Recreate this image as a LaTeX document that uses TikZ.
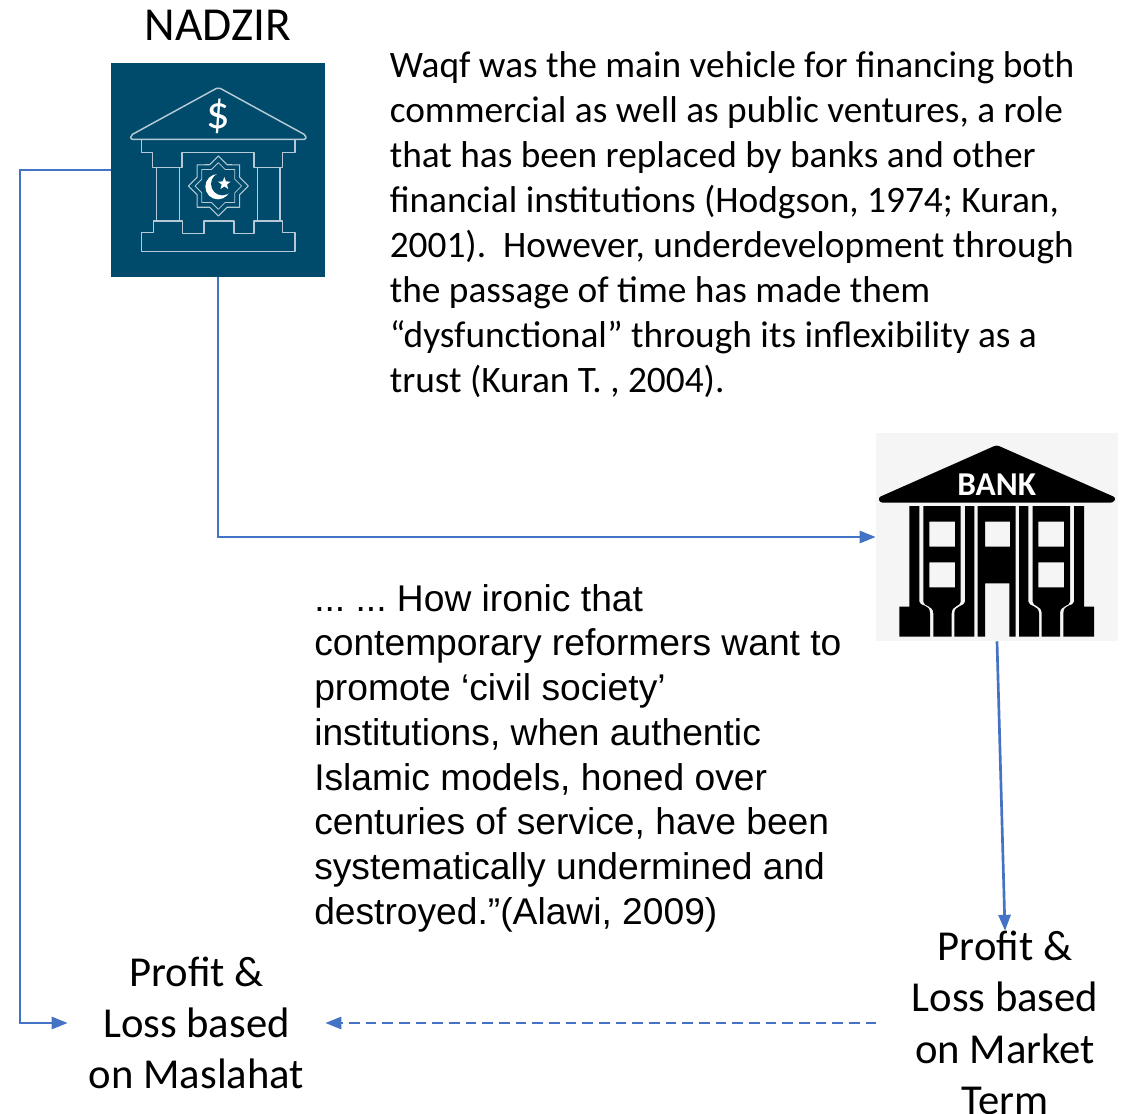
\documentclass[tikz,border=0pt]{standalone}
\usepackage{fontspec}
\setmainfont{Carlito}
\newfontfamily\arialfont{Liberation Sans}
\usetikzlibrary{arrows.meta,shapes.geometric}
\definecolor{linkblue}{HTML}{4472C4}
\definecolor{nadzirblue}{HTML}{004A6B}
\definecolor{iconline}{HTML}{B5CAD6}
\definecolor{bankgrey}{HTML}{F5F5F5}
\frenchspacing
\tikzset{
  link/.style={draw=linkblue,line width=2pt,-{Triangle[length=12pt,width=9pt]}},
  label/.style={inner sep=0pt,align=center,minimum width=192.75pt,font=\fontsize{32}{38.5}\selectfont},
  note/.style={inner sep=0pt,anchor=west,align=left},
  outline/.style={draw=iconline,line width=1.1pt,line join=round}
}
\begin{document}
\begin{tikzpicture}[x=0.75pt,y=-0.75pt]
  \useasboundingbox (0,0) rectangle (1132,1114);
  \node [inner sep=0pt,font=\fontsize{35.5}{38.5}\selectfont] (title) at (218,25) {NADZIR};
  \node [fill=nadzirblue,inner sep=0pt,minimum size=160.5pt] (nadzir) at (218,170) {};
  \node [fill=bankgrey,inner sep=0pt,minimum width=181.5pt,minimum height=156pt] (bank) at (997,537) {};
  \node [label] (maslahat) at (196.5,1023) {Profit \&\\Loss based\\on Maslahat};
  \node [label] (market) at (1005,1023) {Profit \&\\Loss based\\on Market\\Term};
  \node [note,font=\fontsize{28}{33.75}\selectfont] (waqf) at (389.5,225) {Waqf was the main vehicle for financing both\\
    commercial as well as public ventures, a role\\
    that has been replaced by banks and other\\
    financial institutions (Hodgson, 1974; Kuran,\\
    2001).\ \ However, underdevelopment through\\
    the passage of time has made them\\
    “dysfunctional” through its inflexibility as a\\
    trust (Kuran T. , 2004).};
  \node [note,font=\arialfont\fontsize{27.9}{33.56}\selectfont] (alawi) at (314,758) {... ... How ironic that\\
    contemporary reformers want to\\
    promote ‘civil society’\\
    institutions, when authentic\\
    Islamic models, honed over\\
    centuries of service, have been\\
    systematically undermined and\\
    destroyed.”(Alawi, 2009)};
  % nadzir icon
  \begin{scope}[shift={(100,50)},x=0.25pt,y=-0.25pt]
    \draw [outline,rounded corners=1.5pt] (355,112) -- (618,256) -- (618,268) -- (92,268) -- (92,256) -- cycle;
    \draw [outline] (125,270) -- (125,307) -- (158,307) -- (158,352) -- (246,352) -- (246,307) -- (462,307) -- (462,352) -- (548,352) -- (548,307) -- (585,307) -- (585,270);
    \draw [outline] (170,352) -- (170,513) (238,352) -- (238,513) (472,352) -- (472,513) (540,352) -- (540,513);
    \draw [outline] (125,548) -- (125,605) -- (585,605) -- (585,548) -- (548,548) -- (548,513) -- (462,513) -- (462,550) -- (402,550) -- (402,513) -- (312,513) -- (312,550) -- (248,550) -- (248,513) -- (160,513) -- (160,548) -- cycle;
    \node [star,star points=8,star point ratio=1.306,outline,line width=0.8pt,inner sep=0pt,minimum size=45pt] (starout) at (355,408) {};
    \node [star,star points=8,star point ratio=1.306,outline,line width=0.6pt,inner sep=0pt,minimum size=35pt] (starin) at (355,408) {};
    \fill [white] (354,410) circle (38);
    \fill [nadzirblue] (367,402) circle (34);
    \node [star,star points=5,star point ratio=2.4,fill=white,inner sep=0pt,minimum size=10pt] (moonstar) at (373,401) {};
    \node [text=white,inner sep=0pt,font=\fontsize{35}{35}\selectfont] (dollar) at (355,200) {\$};
  \end{scope}
  % bank icon
  \begin{scope}[shift={(870,425)},x=0.25pt,y=-0.25pt]
    \fill [rounded corners=2pt] (380,60) -- (738,218) -- (730,233) -- (30,233) -- (24,218) -- cycle;
    \node [text=white,inner sep=0pt,font=\bfseries\fontsize{25}{25}\selectfont] (banktext) at (380,180) {BANK};
    \fill [even odd rule] (323,243) -- (437,243) -- (437,635) -- (418,635) -- (418,475) -- (345,475) -- (345,635) -- (323,635) -- cycle
      (345,290) rectangle (420,365);
    \foreach \s in {1,-1} {
      \begin{scope}[shift={(380,0)},xscale=\s]
        \fill (-262,243) -- (-232,243) -- (-232,530) .. controls (-232,545) and (-200,535) .. (-200,565) -- (-200,635) -- (-292,635) -- (-292,545) -- (-262,545) -- cycle;
        \fill [even odd rule] (-220,243) -- (-108,243) -- (-108,530) .. controls (-108,545) and (-135,540) .. (-135,565) -- (-135,635) -- (-190,635) -- (-190,565) .. controls (-190,540) and (-220,545) .. (-220,530) -- cycle
          (-202,290) rectangle (-125,365) (-202,412) rectangle (-125,487);
        \fill (-95,243) -- (-67,243) -- (-67,635) -- (-127,635) -- (-127,565) .. controls (-127,540) and (-95,545) .. (-95,530) -- cycle;
      \end{scope}
    }
  \end{scope}
  % connectors
  \coordinate (railtop) at (20,170);
  \coordinate (railbottom) at (20,1023);
  \draw [link] (nadzir.west) -- (railtop) -- (railbottom) -- (maslahat.west);
  \draw [link] (nadzir.south) |- (bank.west);
  \draw [link] (bank.south) -- (market.north);
  \draw [link,dash pattern=on 8pt off 4.5pt] (market.west) -- (maslahat.east);
\end{tikzpicture}
\end{document}
